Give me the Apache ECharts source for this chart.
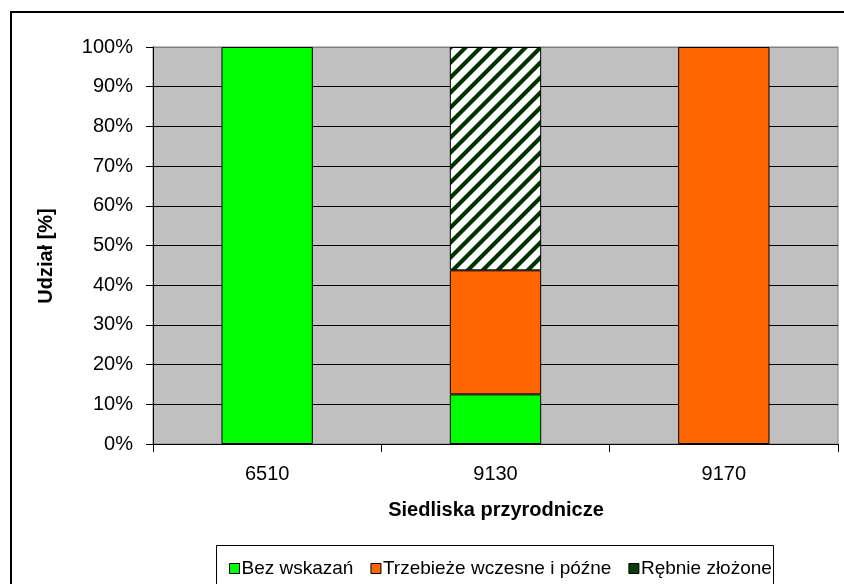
<!DOCTYPE html>
<html>
<head>
<meta charset="utf-8">
<script src="https://cdn.jsdelivr.net/npm/echarts@6/dist/echarts.min.js"></script>
<style>
html,body{margin:0;padding:0;background:#fff;}
#chart{width:844px;height:584px;}
</style>
</head>
<body>
<div id="chart"></div>
<script>
var categories = ['6510', '9130', '9170'];
var seriesNames = ['Bez wskazań', 'Trzebieże wczesne i późne', 'Rębnie złożone'];
var bezWskazan = [100, 12.5, null];
var trzebieze = [null, 31.25, 100];
var rebnie = [null, 56.25, null];
var yTickLabels = ['0%','10%','20%','30%','40%','50%','60%','70%','80%','90%','100%'];

var FONT = '"Liberation Sans", Arial, sans-serif';

function makeHatch() {
  var P = 15, w = 5;
  var c = document.createElement('canvas');
  c.width = P; c.height = P;
  var ctx = c.getContext('2d');
  var img = ctx.createImageData(P, P);
  for (var y = 0; y < P; y++) {
    for (var x = 0; x < P; x++) {
      var d = (x + y) % P;
      var a;
      if (d < w) a = 1;
      else if (d === w || d === P - 1) a = 0.45;
      else a = 0;
      var r = Math.round(255 * (1 - a));
      var g = Math.round(255 * (1 - a) + 0x33 * a);
      var b = Math.round(255 * (1 - a));
      var i = (y * P + x) * 4;
      img.data[i] = r; img.data[i+1] = g; img.data[i+2] = b; img.data[i+3] = 255;
    }
  }
  ctx.putImageData(img, 0, 0);
  return c;
}

var splitColors = [];
for (var i = 0; i < yTickLabels.length; i++) splitColors.push(i === yTickLabels.length - 1 ? '#808080' : '#000000');

var chart = echarts.init(document.getElementById('chart'), null, {renderer: 'canvas'});
var barBorder = {borderColor: '#000', borderWidth: 1};
chart.setOption({
  animation: false,
  backgroundColor: '#fff',
  textStyle: {fontFamily: FONT},
  grid: {left: 153, right: 6, top: 47, bottom: 140, show: true, backgroundColor: '#c0c0c0', borderColor: '#808080', borderWidth: 1},
  xAxis: {
    type: 'category', data: categories,
    axisLine: {lineStyle: {color: '#000', width: 1}},
    axisTick: {show: true, length: 8, lineStyle: {color: '#000'}},
    axisLabel: {color: '#000', fontSize: 20, margin: 20, fontFamily: FONT},
    splitLine: {show: false}
  },
  yAxis: {
    type: 'value', min: 0, max: 100, interval: 10,
    axisLine: {show: true, lineStyle: {color: '#000', width: 1}},
    axisTick: {show: true, length: 7, lineStyle: {color: '#000'}},
    axisLabel: {color: '#000', fontSize: 20, margin: 20, fontFamily: FONT,
      formatter: function (v) { return yTickLabels[Math.round(v / 10)]; }},
    splitLine: {show: true, lineStyle: {color: splitColors, width: 1}}
  },
  legend: {
    data: [
      {name: seriesNames[0]},
      {name: seriesNames[1]},
      {name: seriesNames[2], itemStyle: {color: '#0a3d0a'}}
    ],
    left: 229, top: 559, padding: 0,
    icon: 'rect', itemWidth: 10, itemHeight: 10, itemGap: 17,
    textStyle: {color: '#000', fontSize: 19, fontFamily: FONT, padding: [0,0,0,-3]},
    itemStyle: {borderColor: '#000', borderWidth: 1}
  },
  series: [
    {name: seriesNames[0], type: 'bar', stack: 'total', data: bezWskazan, barWidth: '40%',
      itemStyle: Object.assign({color: '#00ff00'}, barBorder)},
    {name: seriesNames[1], type: 'bar', stack: 'total', data: trzebieze, barWidth: '40%',
      itemStyle: Object.assign({color: '#ff6600'}, barBorder)},
    {name: seriesNames[2], type: 'bar', stack: 'total', data: rebnie, barWidth: '40%',
      itemStyle: Object.assign({color: {image: makeHatch(), repeat: 'repeat'}}, barBorder)}
  ],
  graphic: [
    {type: 'rect', shape: {x: 11, y: 12, width: 900, height: 700}, style: {fill: 'none', stroke: '#000', lineWidth: 2}, silent: true},
    {type: 'rect', shape: {x: 216.5, y: 545.5, width: 557, height: 60}, style: {fill: 'none', stroke: '#000', lineWidth: 1}, silent: true},
    {type: 'text', x: 46, y: 256, rotation: Math.PI / 2,
      style: {text: 'Udział [%]', font: 'bold 20px ' + FONT, fill: '#000', textAlign: 'center', textVerticalAlign: 'middle'}},
    {type: 'text', x: 496, y: 510,
      style: {text: 'Siedliska przyrodnicze', font: 'bold 20px ' + FONT, fill: '#000', textAlign: 'center', textVerticalAlign: 'middle'}}
  ]
});
</script>
</body>
</html>
